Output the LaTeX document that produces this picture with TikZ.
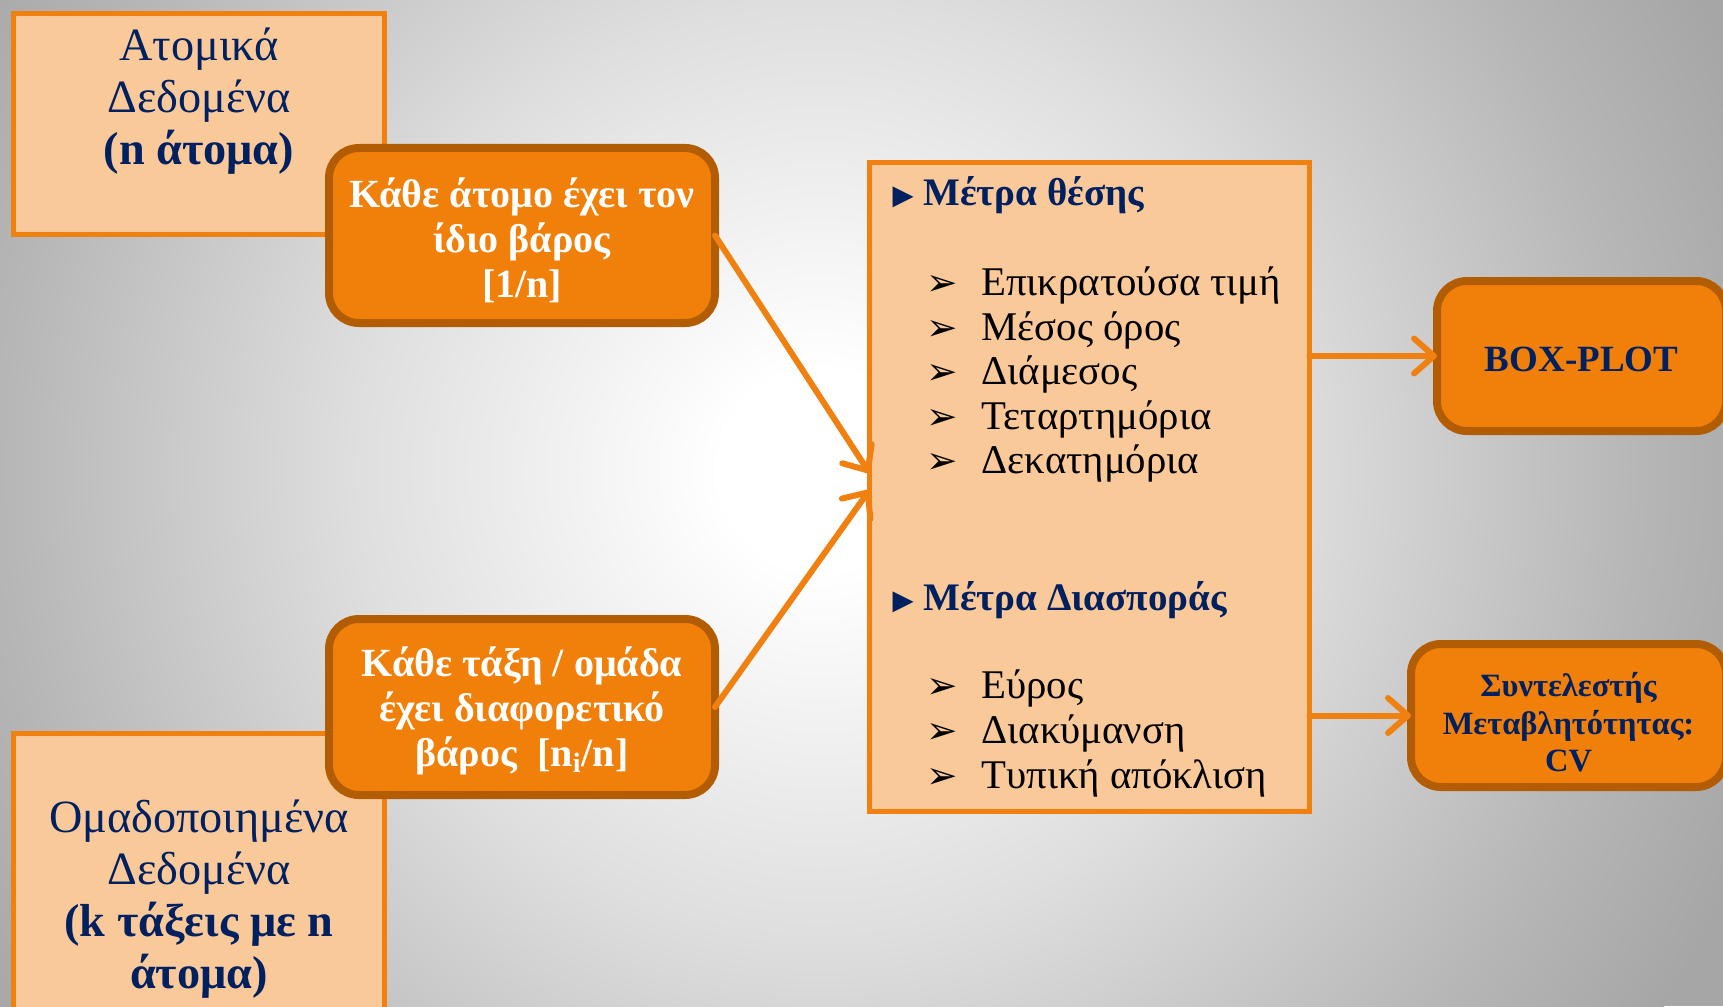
\documentclass[tikz,border=0pt]{standalone}
\usepackage{fontspec}
\setmainfont{Liberation Serif}
\newfontfamily\dejavu{DejaVu Sans}
\usetikzlibrary{arrows.meta}
\definecolor{peach}{RGB}{250,201,154}
\definecolor{orangeline}{RGB}{240,128,16}
\definecolor{orangefill}{RGB}{240,128,10}
\definecolor{darkorange}{RGB}{178,92,4}
\definecolor{navy}{RGB}{0,32,96}
\definecolor{bgA}{RGB}{222,222,222}
\definecolor{bgB}{RGB}{182,182,182}
\definecolor{bgC}{RGB}{166,166,166}
\pgfdeclareradialshading{bgshade}{\pgfpoint{0bp}{0bp}}{color(0bp)=(white); color(2.5bp)=(white); color(11.75bp)=(bgA); color(20.5bp)=(bgB); color(25bp)=(bgC); color(50bp)=(bgC)}
\newcommand{\itemarrow}{\makebox[22pt][l]{\dejavu\fontsize{15}{15}\selectfont ➢}}
\newcommand{\headbullet}{\makebox[12.4pt][l]{\raisebox{0.3pt}{\dejavu\fontsize{11}{11}\selectfont ▶}}}
\newcommand{\shiftedlines}[2]{\raisebox{#1}[\height][\depth]{\begin{tabular}{@{}c@{}}#2\end{tabular}}}
\begin{document}
\begin{tikzpicture}[x=0.4pt,y=-0.4pt,
  lightbox/.style={draw=orangeline, fill=peach, line width=2pt, inner sep=0pt, outer sep=0pt},
  roundbox/.style={draw=darkorange, fill=orangefill, line width=3.2pt, rounded corners=12pt, inner sep=0pt, outer sep=0pt, align=center},
  whitetext/.style={text=white, font=\fontsize{16}{18}\selectfont\bfseries},
  navytext/.style={text=navy, align=center, inner sep=0pt, font=\fontsize{18.5}{20.7}\selectfont},
  item/.style={anchor=base west, inner sep=0pt, font=\fontsize{16.3}{18}\selectfont},
  head/.style={anchor=base west, inner sep=0pt, text=navy, font=\fontsize{15.6}{18}\selectfont\bfseries},
  conn/.style={draw=orangeline, line width=2.4pt, line cap=round, -{Straight Barb[length=8pt,width=14pt,round]}}
]
\useasboundingbox (0,0) rectangle (1723,1006);
\clip (0,0) rectangle (1723,1006);
\fill[bgC] (0,0) rectangle (1723,1006);
\shade[shading=bgshade] (820,470) circle (1000);

% left boxes
\node[lightbox, minimum width=148.4pt, minimum height=88.4pt] (A) at (199,124) {};
\node[lightbox, minimum width=148.4pt, minimum height=121.6pt] (B) at (199,885.5) {};
\node[navytext] (Atext) at (199,101) {Ατομικά\\Δεδομένα\\\textbf{(n άτομα)}};
\node[navytext] (Btext) at (199,899) {Ομαδοποιημένα\\Δεδομένα\\\textbf{(k τάξεις με n}\\\textbf{άτομα)}};

% weight boxes
\node[roundbox, whitetext, minimum width=154.4pt, minimum height=70pt] (C1) at (522,235.5)
  {\shiftedlines{-3.2pt}{Κάθε άτομο έχει τον\\ίδιο βάρος\\{[1/n]}}};
\node[roundbox, whitetext, minimum width=154.4pt, minimum height=70.4pt] (C2) at (522,707)
  {\shiftedlines{-2pt}{Κάθε τάξη / ομάδα\\έχει διαφορετικό\\βάρος\ \ [n\textsubscript{i}/n]}};

% central box
\node[lightbox, minimum width=176pt, minimum height=259.6pt] (D) at (1089.5,487) {};
\node[head] (h1) at (892,205) {\headbullet Μέτρα θέσης};
\node[item] (i1) at (926,295) {\itemarrow Επικρατούσα τιμή};
\node[item] (i2) at (926,340) {\itemarrow Μέσος όρος};
\node[item] (i3) at (926,384) {\itemarrow Διάμεσος};
\node[item] (i4) at (926,429) {\itemarrow Τεταρτημόρια};
\node[item] (i5) at (926,473) {\itemarrow Δεκατημόρια};
\node[head] (h2) at (892,610) {\headbullet Μέτρα Διασποράς};
\node[item] (j1) at (926,698) {\itemarrow Εύρος};
\node[item] (j2) at (926,743) {\itemarrow Διακύμανση};
\node[item] (j3) at (926,788) {\itemarrow Τυπική απόκλιση};

% result boxes
\node[roundbox, text=navy, font=\fontsize{14.8}{16}\selectfont\bfseries, minimum width=115.6pt, minimum height=60pt] (BP) at (1581.5,356)
  {\raisebox{-1.3pt}[\height][\depth]{BOX-PLOT}};
\node[roundbox, text=navy, font=\fontsize{13}{15}\selectfont\bfseries, minimum width=126pt, minimum height=57.2pt] (CV) at (1568.5,715.5)
  {\shiftedlines{-4.4pt}{Συντελεστής\\Μεταβλητότητας:\\CV}};

% connectors
\draw[conn] (C1.east) -- ([yshift=5.6pt]D.west);
\draw[conn] (C2.east) -- ([yshift=-1.2pt]D.west);
\draw[conn] (D.east |- BP.west) -- (BP.west);
\draw[conn] (D.east |- CV.west) -- (CV.west);
\end{tikzpicture}
\end{document}
